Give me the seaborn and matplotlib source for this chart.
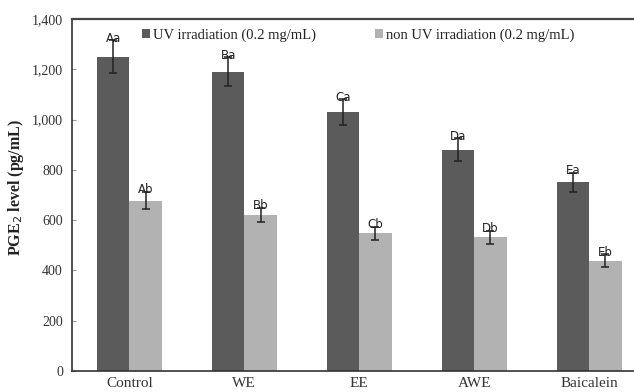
import matplotlib
matplotlib.use("Agg")
import matplotlib.pyplot as plt
import seaborn as sns
import pandas as pd
import numpy as np
from matplotlib.ticker import FuncFormatter

categories = ["Control", "WE", "EE", "AWE", "Baicalein"]
series_names = ["UV irradiation (0.2 mg/mL)", "non UV irradiation (0.2 mg/mL)"]
uv_values = [1250, 1190, 1030, 880, 750]
uv_errors = [65, 57, 50, 45, 37]
nonuv_values = [678, 620, 548, 532, 439]
nonuv_errors = [33, 27, 26, 26, 25]
uv_letters = ["Aa", "Ba", "Ca", "Da", "Ea"]
nonuv_letters = ["Ab", "Bb", "Cb", "Db", "Eb"]
y_ticks = [0, 200, 400, 600, 800, 1000, 1200, 1400]

df = pd.DataFrame({
    "category": categories * 2,
    "series": [series_names[0]] * 5 + [series_names[1]] * 5,
    "value": uv_values + nonuv_values,
    "err": uv_errors + nonuv_errors,
    "letter": uv_letters + nonuv_letters,
})

sns.set_theme(style="white")
plt.rcParams["font.family"] = ["Liberation Serif", "DejaVu Serif"]

fig = plt.figure(figsize=(6.34, 3.92), dpi=100)
ax = fig.add_axes([72 / 634, (392 - 371) / 392, (646.5 - 72) / 634, (371 - 19) / 392])

palette = ["#5b5b5b", "#b2b2b2"]
sns.barplot(data=df, x="category", y="value", hue="series", order=categories,
            hue_order=series_names, palette=palette, errorbar=None,
            width=0.565, saturation=1, ax=ax, linewidth=0)

# error bars and letters from the bar patches
bars = [p for p in ax.patches if p.get_height() > 0][:10]
for i, s in enumerate(series_names):
    sub = df[df["series"] == s].set_index("category").loc[categories]
    for j, cat in enumerate(categories):
        p = bars[i * 5 + j]
        cx = p.get_x() + p.get_width() / 2
        v = sub.loc[cat, "value"]
        e = sub.loc[cat, "err"]
        ax.errorbar(cx, v, yerr=e, fmt="none", ecolor="#222222",
                    elinewidth=1.1, capsize=3, capthick=1.1)
        ax.annotate(sub.loc[cat, "letter"], (cx, v + e), xytext=(0, -3),
                    textcoords="offset points", ha="center", va="bottom",
                    fontsize=8.5, family=["DejaVu Sans"], color="#222222")

ax.set_ylim(0, 1400)
ax.set_xlim(-0.5, 4.5)
ax.set_yticks(y_ticks)
ax.yaxis.set_major_formatter(FuncFormatter(lambda v, _: f"{int(v):,}"))
ax.tick_params(axis="y", direction="in", length=3, width=0.8, color="#999999",
               labelsize=10, pad=6.5, left=True)
ax.tick_params(axis="x", length=0, labelsize=11, pad=4.5)
for t in ax.get_yticklabels() + ax.get_xticklabels():
    t.set_color("#333333")
ax.set_xlabel("")
ax.set_ylabel("PGE$_2$ level (pg/mL)", fontsize=11.5, fontweight="bold",
              color="#222222")
ax.yaxis.set_label_coords(-0.08, 0.52)

for side in ["left", "bottom", "top"]:
    ax.spines[side].set_visible(True)
    ax.spines[side].set_color("#333333")
ax.spines["left"].set_linewidth(1.2)
ax.spines["bottom"].set_linewidth(1.2)
ax.spines["top"].set_linewidth(1.6)
ax.spines["top"].set_color("#444444")
ax.spines["right"].set_visible(False)

leg = ax.legend(loc="center left", bbox_to_anchor=(0.111, 0.955), ncol=2,
                frameon=False, fontsize=10.5, handlelength=0.55, handleheight=0.55,
                handletextpad=0.2, columnspacing=4.1, borderaxespad=0)
for t in leg.get_texts():
    t.set_color("#222222")

fig.savefig("out.png", dpi=100)
